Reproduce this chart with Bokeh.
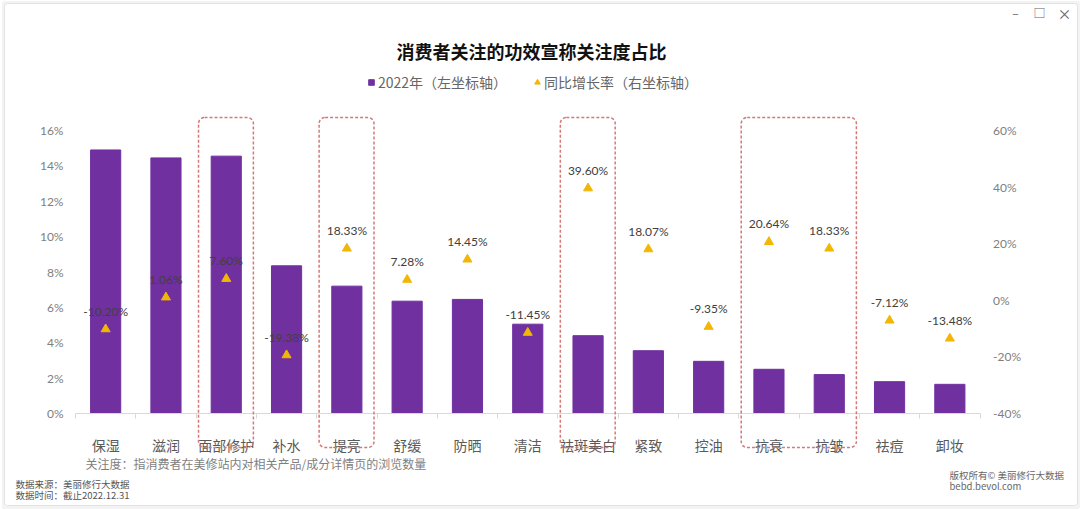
from bokeh.plotting import figure
from bokeh.models import (ColumnDataSource, Range1d, LinearAxis, FixedTicker,
                          PrintfTickFormatter, BoxAnnotation, Label, Legend, LegendItem)
from bokeh.core.properties import value
from bokeh.embed import file_html
from bokeh.resources import INLINE

# ---------------- data ----------------
cats = ["保湿", "滋润", "面部修护", "补水", "提亮", "舒缓", "防晒", "清洁",
        "祛斑美白", "紧致", "控油", "抗衰", "抗皱", "祛痘", "卸妆"]
share_2022 = [14.9, 14.45, 14.55, 8.35, 7.2, 6.35, 6.45, 5.05,
              4.4, 3.55, 2.95, 2.5, 2.2, 1.8, 1.65]          # % (left axis)
yoy_growth = [-10.20, 1.06, 7.60, -19.38, 18.33, 7.28, 14.45, -11.45,
              39.60, 18.07, -9.35, 20.64, 18.33, -7.12, -13.48]  # % (right axis)
left_ticks = [0, 2, 4, 6, 8, 10, 12, 14, 16]
right_ticks = [-40, -20, 0, 20, 40, 60]
highlight_groups = [["面部修护"], ["提亮"], ["祛斑美白"], ["抗衰", "抗皱"]]

title_text = "消费者关注的功效宣称关注度占比"
legend_bar = "2022年（左坐标轴）"
legend_tri = "同比增长率（右坐标轴）"
note_text = "关注度：指消费者在美修站内对相关产品/成分详情页的浏览数量"
source_lines = ["数据来源：美丽修行大数据", "数据时间：截止2022.12.31"]
copyright_lines = ["版权所有© 美丽修行大数据", "bebd.bevol.com"]

# ---------------- layout constants (page px; canvas at page origin) ----------------
CJK = "Noto Sans CJK SC"
NUM = "Lato"
W, H = 1080, 509
X_LEFT, X_RIGHT = 75.0, 979.5          # pixel columns of category band edges
Y0, Y16 = 413.0, 130.0                 # pixel rows of 0% and 16%
n = len(cats)
ppx = (X_RIGHT - X_LEFT) / n
ppu = (Y0 - Y16) / (left_ticks[-1] - left_ticks[0])
x_min, x_max = -X_LEFT / ppx, (W - X_LEFT) / ppx
yl_min, yl_max = -(H - Y0) / ppu, Y0 / ppu
k = (right_ticks[-1] - right_ticks[0]) / (left_ticks[-1] - left_ticks[0])
yr_min, yr_max = right_ticks[0] + yl_min * k, right_ticks[0] + yl_max * k

pos = [i + 0.5 for i in range(n)]
src = ColumnDataSource(dict(
    pos=pos, cat=cats, share=share_2022, growth=yoy_growth,
    glabel=[f"{g:.2f}%" for g in yoy_growth],
))

p = figure(width=W, height=H, x_range=Range1d(x_min, x_max), y_range=Range1d(yl_min, yl_max),
           output_backend="svg", toolbar_location=None,
           min_border_left=0, min_border_right=0, min_border_top=0, min_border_bottom=0)
p.extra_y_ranges = {"g": Range1d(yr_min, yr_max)}
p.outline_line_color = None
p.grid.visible = False
p.background_fill_color = "white"
p.border_fill_color = "white"

# card outline
p.add_layout(BoxAnnotation(left=3, right=1078, top=H - 2, bottom=H - 507,
                           left_units="screen", right_units="screen",
                           top_units="screen", bottom_units="screen",
                           fill_alpha=0, line_color="#f3f3f3", line_alpha=1, line_width=3))
p.add_layout(BoxAnnotation(left=4, right=1077, top=H - 3, bottom=H - 505,
                           left_units="screen", right_units="screen",
                           top_units="screen", bottom_units="screen",
                           fill_alpha=0, line_color="#e2e2e2", line_alpha=1,
                           line_width=1, border_radius=3))

# x axis at y=0
xa = p.xaxis[0]
xa.fixed_location = 0
xa.bounds = (0, n)
xa.ticker = FixedTicker(ticks=pos, minor_ticks=list(range(n + 1)))
xa.major_label_overrides = {pp: c for pp, c in zip(pos, cats)}
xa.axis_line_color = "#d9d9d9"
xa.major_tick_line_color = None
xa.major_tick_out = 0
xa.major_tick_in = 0
xa.minor_tick_line_color = "#d9d9d9"
xa.minor_tick_out = 5
xa.minor_tick_in = 0
xa.major_label_standoff = 16
xa.major_label_text_font = CJK
xa.major_label_text_font_size = "14px"
xa.major_label_text_color = "#595959"

# left axis
ya = p.yaxis[0]
ya.fixed_location = 0
ya.ticker = FixedTicker(ticks=left_ticks)
ya.formatter = PrintfTickFormatter(format="%d%%")
ya.axis_line_color = None
ya.major_tick_line_color = None
ya.minor_tick_line_color = None
ya.major_tick_out = 0
ya.major_label_standoff = 12
ya.major_label_text_font = NUM
ya.major_label_text_font_size = "12px"
ya.major_label_text_color = "#808080"

# right axis
ra = LinearAxis(y_range_name="g", ticker=FixedTicker(ticks=right_ticks),
                formatter=PrintfTickFormatter(format="%d%%"), fixed_location=n)
ra.axis_line_color = None
ra.major_tick_line_color = None
ra.minor_tick_line_color = None
ra.major_tick_out = 0
ra.major_label_standoff = 13
ra.major_label_text_font = NUM
ra.major_label_text_font_size = "12px"
ra.major_label_text_color = "#808080"
p.add_layout(ra, "right")

# bars
PURPLE = "#7030a0"
GOLD = "#f2b705"
p.vbar(x="pos", top="share", width=0.5, source=src, fill_color=PURPLE, line_color=PURPLE)

# highlight boxes
for grp in highlight_groups:
    idx = [cats.index(c) for c in grp]
    p.add_layout(BoxAnnotation(left=min(idx) + 0.04, right=max(idx) + 0.95,
                               bottom=-(447 - Y0) / ppu, top=(Y0 - 117) / ppu,
                               fill_alpha=0, line_color="#d67878", line_alpha=1,
                               line_width=1.5, line_dash="3 2", border_radius=6))

# growth markers and labels
r_tri = p.scatter(x="pos", y="growth", marker="triangle", size=9, source=src,
                  y_range_name="g", fill_color=GOLD, line_color=GOLD)
p.text(x="pos", y="growth", text="glabel", source=src, y_range_name="g",
       y_offset=-18, text_align="center", text_baseline="middle",
       text_font=value(NUM), text_font_size="12px", text_color="#404040")

# legend (square proxy glyph for the bar series; its single point is NaN so it is not drawn)
r_sq = p.scatter(x=[float("nan")], y=[float("nan")], marker="square",
                 fill_color=PURPLE, line_color=PURPLE)
leg = Legend(items=[LegendItem(label=legend_bar, renderers=[r_sq]),
                    LegendItem(label=legend_tri, renderers=[r_tri])],
             orientation="horizontal", location=(364, H - 92),
             glyph_width=14, glyph_height=14, label_standoff=0, spacing=23,
             background_fill_alpha=0, border_line_color=None, padding=0, margin=0,
             label_text_font=CJK, label_text_font_size="14px",
             label_text_color="#666666", label_height=14)
p.add_layout(leg)

# texts (screen units, frame == canvas, y from bottom)
def add_label(txt, X, Y, size, color, align="left", font=CJK, style="normal"):
    p.add_layout(Label(x=X, y=H - Y, x_units="screen", y_units="screen", text=txt,
                       text_font=font, text_font_size=size, text_color=color,
                       text_font_style=style, text_align=align, text_baseline="middle"))

add_label(title_text, 531, 50, "18px", "#111111", "center", style="bold")
add_label(note_text, 85, 463, "12px", "#7f7f7f")
add_label(source_lines[0], 15, 483, "9.5px", "#555555")
add_label(source_lines[1], 15, 494, "9.5px", "#555555")
add_label(copyright_lines[0], 949, 474, "9.5px", "#666666")
add_label(copyright_lines[1], 949, 485, "9.5px", "#666666")
add_label("–", 1015, 12, "12px", "#666666", "center")
add_label("□", 1039, 12, "12px", "#666666", "center")
add_label("×", 1064, 12, "14px", "#666666", "center")

open("out.html", "w").write(file_html(p, INLINE))
